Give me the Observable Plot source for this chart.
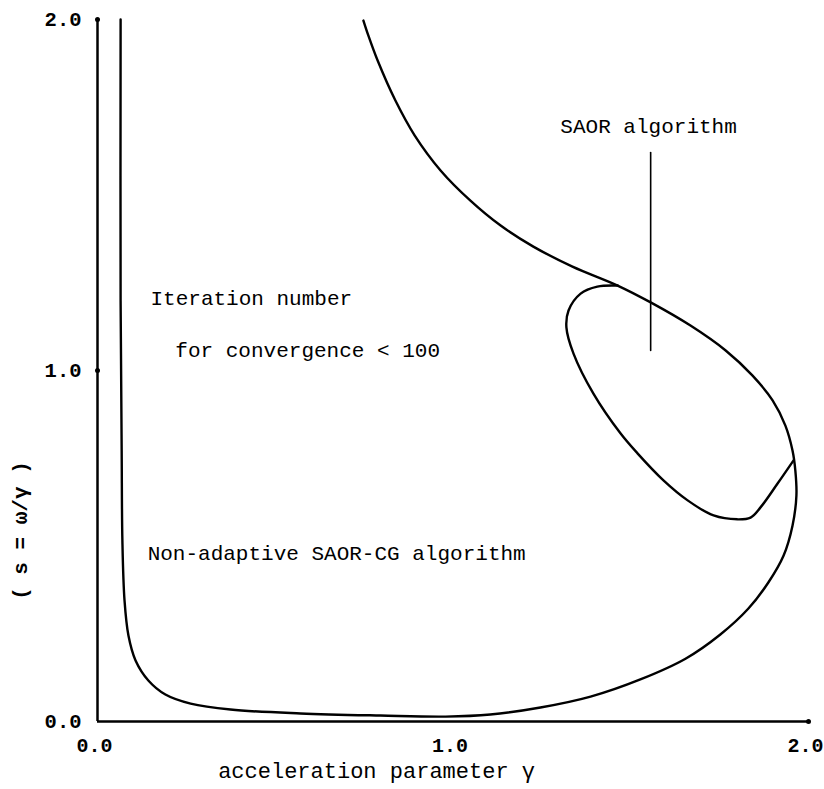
<!DOCTYPE html>
<html><head><meta charset="utf-8">
<script src="https://cdn.jsdelivr.net/npm/d3@7"></script>
<script src="https://cdn.jsdelivr.net/npm/@observablehq/plot@0.6"></script>
<style>body{margin:0;background:#fff;} svg{display:block;}</style>
</head><body><div id="chart"></div>
<script>
// Non-adaptive SAOR-CG region boundary (iteration number < 100)
const outerGamma = [0.065, 0.065, 0.068, 0.070, 0.076, 0.087, 0.107, 0.143, 0.191, 0.262, 0.374, 0.571, 0.796, 0.979, 1.105, 1.246, 1.387, 1.527, 1.654, 1.752, 1.831, 1.887, 1.930, 1.955, 1.966, 1.963, 1.955, 1.935, 1.899, 1.842, 1.767, 1.668, 1.556, 1.463, 1.336, 1.226, 1.134, 1.049, 0.965, 0.892, 0.838, 0.788, 0.762, 0.748];
const outerS     = [2.000, 1.199, 0.772, 0.516, 0.345, 0.245, 0.174, 0.117, 0.077, 0.051, 0.034, 0.023, 0.017, 0.014, 0.020, 0.040, 0.071, 0.120, 0.179, 0.248, 0.322, 0.396, 0.473, 0.558, 0.644, 0.715, 0.772, 0.843, 0.915, 0.986, 1.057, 1.128, 1.194, 1.242, 1.296, 1.353, 1.413, 1.484, 1.570, 1.670, 1.769, 1.883, 1.954, 1.997];
// SAOR algorithm region (lower/left part of loop; upper part shared with outer curve)
const saorGamma = [1.958, 1.913, 1.865, 1.837, 1.800, 1.733, 1.660, 1.592, 1.519, 1.471, 1.395, 1.339, 1.319, 1.325, 1.359, 1.406, 1.463];
const saorS     = [0.744, 0.678, 0.610, 0.581, 0.576, 0.587, 0.630, 0.687, 0.764, 0.821, 0.934, 1.048, 1.123, 1.171, 1.219, 1.239, 1.242];
// pointer from "SAOR algorithm" label
const pointerGamma = [1.556, 1.556];
const pointerS = [1.621, 1.057];
// tick values
const xTicks = [0, 1, 2];
const yTicks = [0, 1, 2];
// annotations
const noteText = ["Iteration number", "for convergence < 100", "Non-adaptive SAOR-CG algorithm", "SAOR algorithm"];
const noteGamma = [0.149, 0.219, 0.141, 1.302];
const noteS = [1.205, 1.057, 0.480, 1.695];
const xTitle = "acceleration parameter γ";
const yTitle = "( s = ω/γ )";

const mono = "'Liberation Mono', 'DejaVu Sans Mono', monospace";
const outer = outerGamma.map((g, i) => ({g, s: outerS[i]}));
const saor = saorGamma.map((g, i) => ({g, s: saorS[i]}));
const pointer = pointerGamma.map((g, i) => ({g, s: pointerS[i]}));
const notes = noteText.map((t, i) => ({t, g: noteGamma[i], s: noteS[i]}));

const chart = Plot.plot({
  width: 824, height: 789,
  marginLeft: 97, marginRight: 16, marginTop: 19, marginBottom: 68,
  x: {domain: [0, 2]},
  y: {domain: [0, 2]},
  style: {fontFamily: mono, background: "white", color: "black"},
  marks: [
    Plot.ruleX([0], {stroke: "black", strokeWidth: 2.5}),
    Plot.ruleY([0], {stroke: "black", strokeWidth: 2.5}),
    Plot.axisX({ticks: xTicks, tickFormat: d => d.toFixed(1), tickSize: 0, tickPadding: 16, dx: -3, fontSize: 20, fontWeight: "bold", label: null}),
    Plot.axisY({ticks: yTicks, tickFormat: d => d.toFixed(1), tickSize: 0, tickPadding: 16, fontSize: 20.5, fontWeight: "bold", label: null}),
    Plot.dot(yTicks.filter(d => d > 0), {x: () => 0, y: d => d, r: 2.5, fill: "black"}),
    Plot.dot(xTicks.filter(d => d === 2), {x: d => d, y: () => 0, r: 2.5, fill: "black"}),
    Plot.line(outer, {x: "g", y: "s", curve: "catmull-rom", stroke: "black", strokeWidth: 2.4}),
    Plot.line(saor, {x: "g", y: "s", curve: "catmull-rom", stroke: "black", strokeWidth: 2.4}),
    Plot.line(pointer, {x: "g", y: "s", stroke: "black", strokeWidth: 1.6}),
    Plot.text(notes, {x: "g", y: "s", text: "t", textAnchor: "start", lineAnchor: "middle", fontSize: 21, fill: "black"}),
    Plot.text([xTitle], {x: () => 0.785, frameAnchor: "bottom", dy: 49, textAnchor: "middle", lineAnchor: "middle", fontSize: 22, fill: "black"}),
    Plot.text([yTitle], {y: () => 0.544, frameAnchor: "left", dx: -77, rotate: -90, textAnchor: "middle", lineAnchor: "middle", fontSize: 21, fontWeight: "bold", fill: "black"})
  ]
});
document.getElementById("chart").append(chart);
</script>
</body></html>
